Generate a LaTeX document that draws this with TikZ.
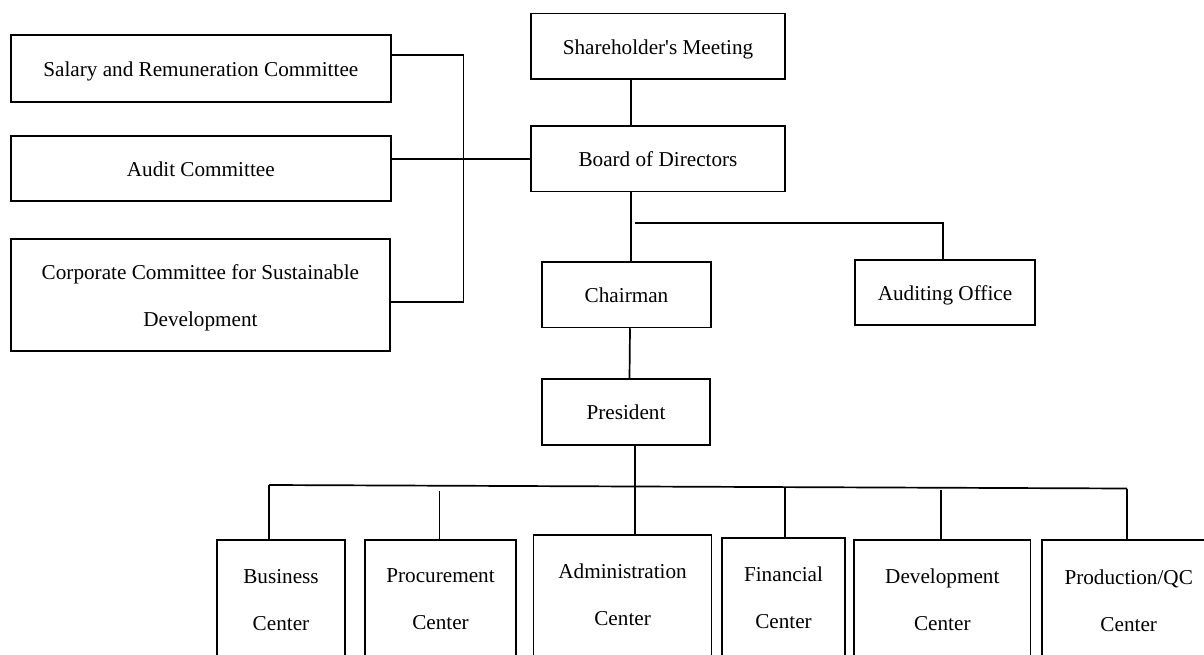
\documentclass[tikz,border=0pt]{standalone}
\usepackage{fontspec}
\setmainfont{Liberation Serif}[Ligatures=TeXOff]
\begin{document}
\begin{tikzpicture}[x=1pt,y=-1pt,line width=1.5pt,
  boxnode/.style={draw, line width=1.6pt, inner sep=0pt, align=center,
    font=\fontsize{21.2}{47}\selectfont},
  onebox/.style={boxnode, text height=20pt, text depth=4.5pt},
  framenode/.style={draw, line width=1.6pt, inner sep=0pt, anchor=north},
  txtnode/.style={inner sep=0pt, align=center, font=\fontsize{21.2}{47}\selectfont},
  conn/.style={draw, line width=1.7pt}]
\useasboundingbox (0,0) rectangle (1204,655);
\clip (0,0) rectangle (1204,655);

% top boxes
\node[onebox, minimum width=254pt, minimum height=65.6pt] (share) at (658,46.5) {Shareholder's Meeting};
\node[onebox, minimum width=254pt, minimum height=65.5pt] (board) at (658,158.7) {Board of Directors};
\node[onebox, minimum width=380pt, minimum height=67pt] (salary) at (200.8,68.5) {Salary and Remuneration Committee};
\node[onebox, minimum width=380pt, minimum height=65pt] (audit) at (200.8,168.5) {Audit Committee};
\node[boxnode, text height=67.6pt, text depth=4.6pt, minimum width=379pt, minimum height=112pt] (corp) at (200.4,295) {Corporate Committee for Sustainable\\Development};
\node[onebox, minimum width=169pt, minimum height=65.5pt] (chair) at (626.5,294.7) {Chairman};
\node[onebox, minimum width=180pt, minimum height=65pt] (audoff) at (945,292.5) {Auditing Office};
\node[onebox, minimum width=168pt, minimum height=66pt] (pres) at (626,412) {President};

% bottom boxes (cut off by the page edge)
\node[framenode, minimum width=128pt, minimum height=200pt] (busb) at (281,539) {};
\node[framenode, minimum width=151pt, minimum height=200pt] (procb) at (440.5,539) {};
\node[framenode, minimum width=178pt, minimum height=200pt] (admb) at (622.6,534) {};
\node[framenode, minimum width=123pt, minimum height=200pt] (finb) at (783.5,537) {};
\node[framenode, minimum width=176.7pt, minimum height=200pt] (devb) at (942.3,539) {};
\node[framenode, minimum width=174pt, minimum height=200pt] (prodb) at (1128.7,539) {};

\node[txtnode] (bust) at (281,600) {Business\\Center};
\node[txtnode] (proct) at (440.5,599.5) {Procurement\\Center};
\node[txtnode] (admt) at (622.6,595) {Administration\\Center};
\node[txtnode] (fint) at (783.5,598) {Financial\\Center};
\node[txtnode] (devt) at (942.3,599.5) {Development\\Center};
\node[txtnode] (prodt) at (1128.7,600.5) {Production/QC\\Center};

% coordinates
\coordinate (lbus) at (463.5,55);
\coordinate (lbcorp) at (463.5,301.7);
\coordinate (brA) at (635,223);
\coordinate (brB) at (943,223);
\coordinate (busL) at (269,485);
\coordinate (busR) at (1127,488.5);
\coordinate (busM) at (635,486.6);
\coordinate (procTop) at (439.5,491);
\coordinate (finTop) at (785,487.5);
\coordinate (devTop) at (941,490);

% connectors
\draw[conn] ([xshift=-27pt]share.south) -- ([xshift=-27pt]board.north);
\draw[conn] ([xshift=4.5pt]chair.north |- board.south) -- ([xshift=4.5pt]chair.north);
\draw[conn] (brA) -- (brB) -- (brB |- audoff.north);
\draw[conn] ([xshift=3.5pt]chair.south) -- ([xshift=3.5pt]pres.north);
\draw[conn] (busM |- pres.south) -- (busM);
\draw[conn] (busL) -- (busR);
\draw[conn] (busL) -- (busL |- busb.north);
\draw[conn] (procTop) -- (procTop |- procb.north);
\draw[conn] (busM) -- (busM |- admb.north);
\draw[conn] (finTop) -- (finTop |- finb.north);
\draw[conn] (devTop) -- (devTop |- devb.north);
\draw[conn] (busR) -- (busR |- prodb.north);

\draw[conn] (salary.east |- lbus) -- (lbus) -- (lbcorp) -- (corp.east |- lbcorp);
\draw[conn] (audit.east |- board.west) -- (board.west);
\end{tikzpicture}
\end{document}
